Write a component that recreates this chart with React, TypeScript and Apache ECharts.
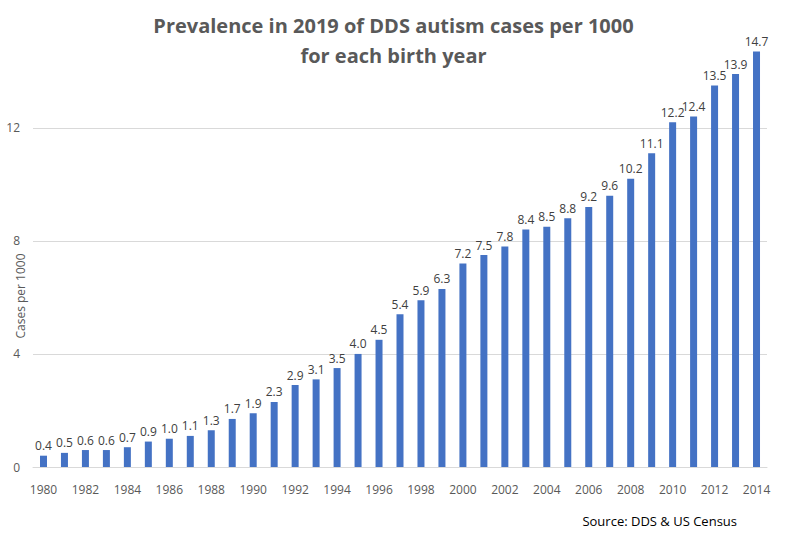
import React, { useEffect, useRef } from "react";
import * as echarts from "echarts";

const years = [
  "1980", "1981", "1982", "1983", "1984", "1985", "1986", "1987", "1988", "1989",
  "1990", "1991", "1992", "1993", "1994", "1995", "1996", "1997", "1998", "1999",
  "2000", "2001", "2002", "2003", "2004", "2005", "2006", "2007", "2008", "2009",
  "2010", "2011", "2012", "2013", "2014",
];

const casesPer1000 = [
  0.4, 0.5, 0.6, 0.6, 0.7, 0.9, 1.0, 1.1, 1.3, 1.7,
  1.9, 2.3, 2.9, 3.1, 3.5, 4.0, 4.5, 5.4, 5.9, 6.3,
  7.2, 7.5, 7.8, 8.4, 8.5, 8.8, 9.2, 9.6, 10.2, 11.1,
  12.2, 12.4, 13.5, 13.9, 14.7,
];

const FONT = "'Open Sans', 'Noto Sans', sans-serif";

const App: React.FC = () => {
  const chartRef = useRef<HTMLDivElement>(null);

  useEffect(() => {
    if (!chartRef.current) return;
    // page has the default 8px body margin, drop it so the chart fills the window
    document.body.style.margin = "0";
    const chart = echarts.init(chartRef.current, undefined, { renderer: "svg" });

    const option = {
      animation: false,
      backgroundColor: "#ffffff",
      textStyle: { fontFamily: FONT },
      title: {
        text: "Prevalence in 2019 of DDS autism cases per 1000\nfor each birth year",
        left: "center",
        top: 5,
        textStyle: {
          fontFamily: FONT,
          fontSize: 20,
          fontWeight: "bold",
          color: "#595959",
          lineHeight: 30,
        },
      },
      grid: { left: 33, right: 20, top: 43, bottom: 67 },
      xAxis: {
        type: "category",
        data: years,
        axisTick: { show: false },
        axisLine: { lineStyle: { color: "#d9d9d9" } },
        axisLabel: {
          interval: 1,
          color: "#595959",
          fontSize: 12,
          margin: 16,
        },
      },
      yAxis: {
        type: "value",
        min: 0,
        max: 15,
        interval: 4,
        axisLine: { show: false },
        axisTick: { show: false },
        axisLabel: {
          color: "#595959",
          fontSize: 12,
          margin: 13,
          showMaxLabel: false,
        },
        splitLine: { showMaxLine: false, lineStyle: { color: "#d9d9d9" } },
      },
      graphic: [
        {
          type: "text",
          x: 20,
          y: 296,
          rotation: Math.PI / 2,
          style: {
            text: "Cases per 1000",
            fill: "#595959",
            font: `12px ${FONT}`,
            align: "center",
            verticalAlign: "middle",
          },
        },
        {
          type: "text",
          x: 737,
          y: 521,
          style: {
            text: "Source: DDS & US Census",
            fill: "#000000",
            font: `13px ${FONT}`,
            align: "right",
            verticalAlign: "middle",
          },
        },
      ],
      series: [
        {
          type: "bar",
          data: casesPer1000,
          barWidth: 7,
          itemStyle: { color: "#4472c4" },
          label: {
            show: true,
            position: "top",
            distance: 4,
            color: "#404040",
            fontSize: 12,
            formatter: (p: any) => p.value.toFixed(1),
          },
        },
      ],
    };

    chart.setOption(option);
    const handleResize = () => chart.resize();
    window.addEventListener("resize", handleResize);
    return () => {
      window.removeEventListener("resize", handleResize);
      chart.dispose();
    };
  }, []);

  return <div ref={chartRef} style={{ width: "787px", height: "534px" }} />;
};

export default App;
